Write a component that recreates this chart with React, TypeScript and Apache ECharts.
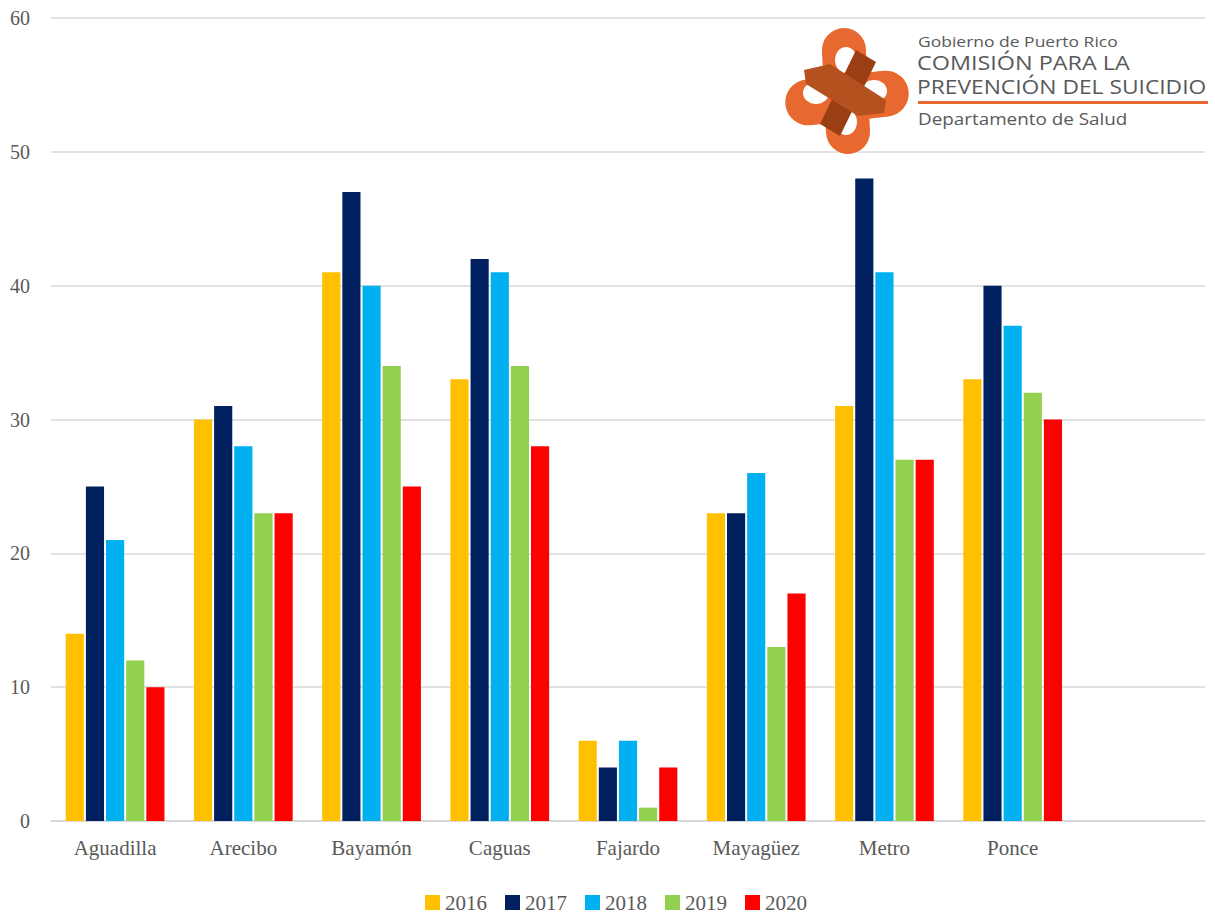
import React, { useEffect, useRef } from "react";
import * as echarts from "echarts";

const categories = ["Aguadilla", "Arecibo", "Bayamón", "Caguas", "Fajardo", "Mayagüez", "Metro", "Ponce", ""];
const years = ["2016", "2017", "2018", "2019", "2020"];
const v2016 = [14, 30, 41, 33, 6, 23, 31, 33];
const v2017 = [25, 31, 47, 42, 4, 23, 48, 40];
const v2018 = [21, 28, 40, 41, 6, 26, 41, 37];
const v2019 = [12, 23, 34, 34, 1, 13, 27, 32];
const v2020 = [10, 23, 25, 28, 4, 17, 27, 30];
const seriesValues = [v2016, v2017, v2018, v2019, v2020];
const colors = ["#FFC000", "#002060", "#00B0F0", "#92D050", "#FF0000"];
const yTicks = [0, 10, 20, 30, 40, 50, 60];

const ORANGE = "#E8692F";
const SERIF = "Liberation Serif";
const SANS = "'Open Sans', 'Noto Sans', sans-serif";
const LOGO_GREY = "#58595B";

export default function App() {
  const ref = useRef<HTMLDivElement>(null);
  useEffect(() => {
    if (!ref.current) return;
    const chart = echarts.init(ref.current, undefined, { renderer: "svg" });
    const logo: any[] = [
      { type: "rect", shape: { x: -22, y: -63, width: 44, height: 126, r: 22 }, x: 846, y: 91, rotation: 0.05, style: { fill: ORANGE }, z: 10 },
      { type: "rect", shape: { x: -62, y: -23, width: 124, height: 46, r: 23 }, x: 847, y: 98, rotation: 0.11, style: { fill: ORANGE }, z: 10 },
      { type: "ellipse", shape: { cx: 846, cy: 60, rx: 11, ry: 13 }, style: { fill: "#fff" }, z: 11 },
      { type: "ellipse", shape: { cx: 816, cy: 93, rx: 13, ry: 11 }, style: { fill: "#fff" }, z: 11 },
      { type: "ellipse", shape: { cx: 874, cy: 91, rx: 13, ry: 11 }, style: { fill: "#fff" }, z: 11 },
      { type: "ellipse", shape: { cx: 846, cy: 122, rx: 11, ry: 13 }, style: { fill: "#fff" }, z: 11 },
      { type: "polygon", shape: { points: [[856, 50], [876, 62], [840, 136], [820, 124]] }, style: { fill: "#9A3E14" }, z: 12 },
      { type: "polygon", shape: { points: [[804, 70], [830, 64], [886, 100], [884, 113], [858, 116], [806, 84]] }, style: { fill: "#B5501F" }, z: 13 },
      { type: "text", x: 918, y: 42, scaleX: 1.25, style: { text: "Gobierno de Puerto Rico", font: `14px ${SANS}`, fill: LOGO_GREY, textVerticalAlign: "middle", lineHeight: 16 }, z: 10 },
      { type: "text", x: 917, y: 62, scaleX: 1.17, style: { text: "COMISIÓN PARA LA", font: `20px ${SANS}`, fill: LOGO_GREY, textVerticalAlign: "middle", lineHeight: 21 }, z: 10 },
      { type: "text", x: 917, y: 86, scaleX: 1.14, style: { text: "PREVENCIÓN DEL SUICIDIO", font: `20px ${SANS}`, fill: LOGO_GREY, textVerticalAlign: "middle", lineHeight: 21 }, z: 10 },
      { type: "rect", shape: { x: 918, y: 101, width: 290, height: 3 }, style: { fill: ORANGE }, z: 10 },
      { type: "text", x: 918, y: 118, scaleX: 1.11, style: { text: "Departamento de Salud", font: `17px ${SANS}`, fill: LOGO_GREY, textVerticalAlign: "middle", lineHeight: 18 }, z: 10 },
    ];
    chart.setOption({
      animation: false,
      textStyle: { fontFamily: SERIF },
      grid: { left: 51, right: 10, top: 18, bottom: 95, containLabel: false },
      legend: {
        data: years,
        left: 420,
        top: 887,
        itemWidth: 15,
        itemHeight: 15,
        itemGap: 18,
        icon: "rect",
        formatter: "{y|{name}}",
        textStyle: {
          fontFamily: SERIF,
          fontSize: 21,
          color: "#595959",
          rich: { y: { fontFamily: SERIF, fontSize: 21, color: "#595959" } },
        },
      },
      xAxis: {
        type: "category",
        data: categories,
        axisTick: { show: false },
        axisLine: { lineStyle: { color: "#D9D9D9", width: 2 } },
        axisLabel: { fontFamily: SERIF, fontSize: 21, color: "#595959", margin: 16, interval: 0 },
      },
      yAxis: {
        type: "value",
        min: 0,
        max: yTicks[yTicks.length - 1],
        interval: 10,
        axisLine: { show: false },
        axisTick: { show: false },
        splitLine: { lineStyle: { color: "#D9D9D9", width: 1.5 } },
        axisLabel: { fontFamily: SERIF, fontSize: 20, color: "#595959", margin: 21 },
      },
      series: years.map((y, i) => ({
        name: y,
        type: "bar",
        data: seriesValues[i],
        itemStyle: { color: colors[i] },
        barGap: "11%",
        barCategoryGap: "23%",
      })),
      graphic: logo,
    });
    return () => chart.dispose();
  }, []);
  return <div ref={ref} style={{ width: 1215, height: 916, position: "absolute", left: 0, top: 0 }} />;
}
